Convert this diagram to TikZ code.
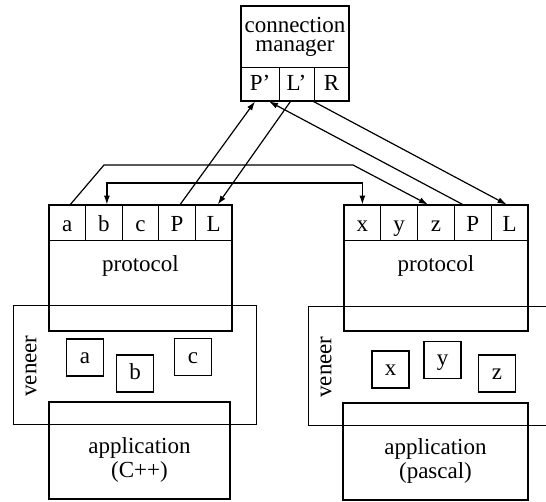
\documentclass[tikz,border=0pt]{standalone}
\usepackage{fontspec}
\setmainfont{Liberation Serif}
\usetikzlibrary{arrows.meta,calc}
\begin{document}
\begin{tikzpicture}[x=1pt,y=-1pt,
  txt/.style={font=\fontsize{23}{26}\selectfont, inner sep=0pt},
  bigbox/.style={draw, line width=2pt, inner sep=0pt},
  cell/.style={draw, line width=0.9pt, minimum width=36.6pt, minimum height=35pt, inner sep=0pt, text height=18pt, text depth=0pt, font=\fontsize{23}{26}\selectfont},
  smallbox/.style={draw, line width=1.2pt, minimum width=37pt, minimum height=37pt, inner sep=0pt, text height=12pt, text depth=0pt, font=\fontsize{23}{26}\selectfont},
  arr/.style={line width=1.2pt, -{Latex[length=9pt,width=6pt]}},
  thinline/.style={line width=0.9pt}
]
\useasboundingbox (0,0) rectangle (546,502);

% ---------- connection manager ----------
\node[cell, minimum width=38pt, minimum height=34pt, text height=14pt] (cP) at (260,84) {P'};
\node[cell, minimum width=35pt, minimum height=34pt, text height=14pt] (cL) at (296.5,84) {L'};
\node[cell, minimum width=35pt, minimum height=34pt, text height=14pt] (cR) at (331.5,84) {R};
\node[bigbox, minimum width=108pt, minimum height=95pt] (cm) at (295,53.5) {};
\node[txt, align=center, font=\fontsize{23}{19.5}\selectfont] (cmt) at (295,37) {connection\\manager};

% ---------- left side ----------
\draw[thinline] (13,305) rectangle (256,424);
\node[txt, rotate=90] (lven) at (31,366) {veneer};

\node[cell] (la) at (67.3,222.5) {a};
\node[cell] (lb) at (103.9,222.5) {b};
\node[cell] (lc) at (140.5,222.5) {c};
\node[cell] (lP) at (177.1,222.5) {P};
\node[cell] (lL) at (213.7,222.5) {L};
\node[bigbox, minimum width=183pt, minimum height=126pt] (lprot) at (140.5,268) {};
\node[txt, anchor=base] (lprott) at (140.5,272) {protocol};

\node[smallbox] (sa) at (85,357.5) {a};
\node[smallbox] (sb) at (135,373.5) {b};
\node[smallbox] (sc) at (193,357) {c};

\node[bigbox, minimum width=181pt, minimum height=97pt] (lapp) at (139.5,450.5) {};
\node[txt, anchor=base] (lapp1) at (139.5,453) {application};
\node[txt, anchor=base] (lapp2) at (139.5,477) {(C++)};

% ---------- right side ----------
\draw[thinline] (546,306) -- (308,306) -- (308,425) -- (546,425);
\node[txt, rotate=90] (rven) at (326,367) {veneer};

\node[cell] (rx) at (362.4,222.5) {x};
\node[cell] (ry) at (399.2,222.5) {y};
\node[cell] (rz) at (436,222.5) {z};
\node[cell] (rP) at (472.8,222.5) {P};
\node[cell] (rL) at (509.6,222.5) {L};
\node[bigbox, minimum width=184pt, minimum height=126pt] (rprot) at (436,268) {};
\node[txt, anchor=base] (rprott) at (436,272) {protocol};

\node[smallbox] (sx) at (390.5,369.5) {x};
\node[smallbox] (sy) at (442.5,360) {y};
\node[smallbox] (sz) at (497,373.5) {z};

\node[bigbox, minimum width=185pt, minimum height=97pt] (rapp) at (435.5,451.5) {};
\node[txt, anchor=base] (rapp1) at (435.5,454) {application};
\node[txt, anchor=base] (rapp2) at (435.5,478) {(pascal)};

% ---------- connectors ----------
\coordinate (k1) at (104,165);
\coordinate (k2) at (353,165);
\coordinate (hb) at (0,183);

\draw[arr] ([xshift=3pt]la.north) -- (k1) -- (k2) -- ([xshift=-8pt]rz.north);
\draw[line width=1.2pt, {Latex[length=9pt,width=6pt]}-{Latex[length=9pt,width=6pt]}]
  ([xshift=3pt]lb.north) -- ([xshift=3pt]lb.north |- hb) -| (rx.north);
\draw[arr] ([xshift=3pt]lP.north) -- ([xshift=-5pt]cP.south);
\draw[arr] ([xshift=-10pt]rP.north) -- ([xshift=9pt]cP.south);
\draw[arr] ([xshift=-6pt]cL.south) -- ([xshift=4pt]lL.north);
\draw[arr] ([xshift=-1pt]cL.south east) -- ([xshift=-3pt]rL.north);
\end{tikzpicture}
\end{document}
